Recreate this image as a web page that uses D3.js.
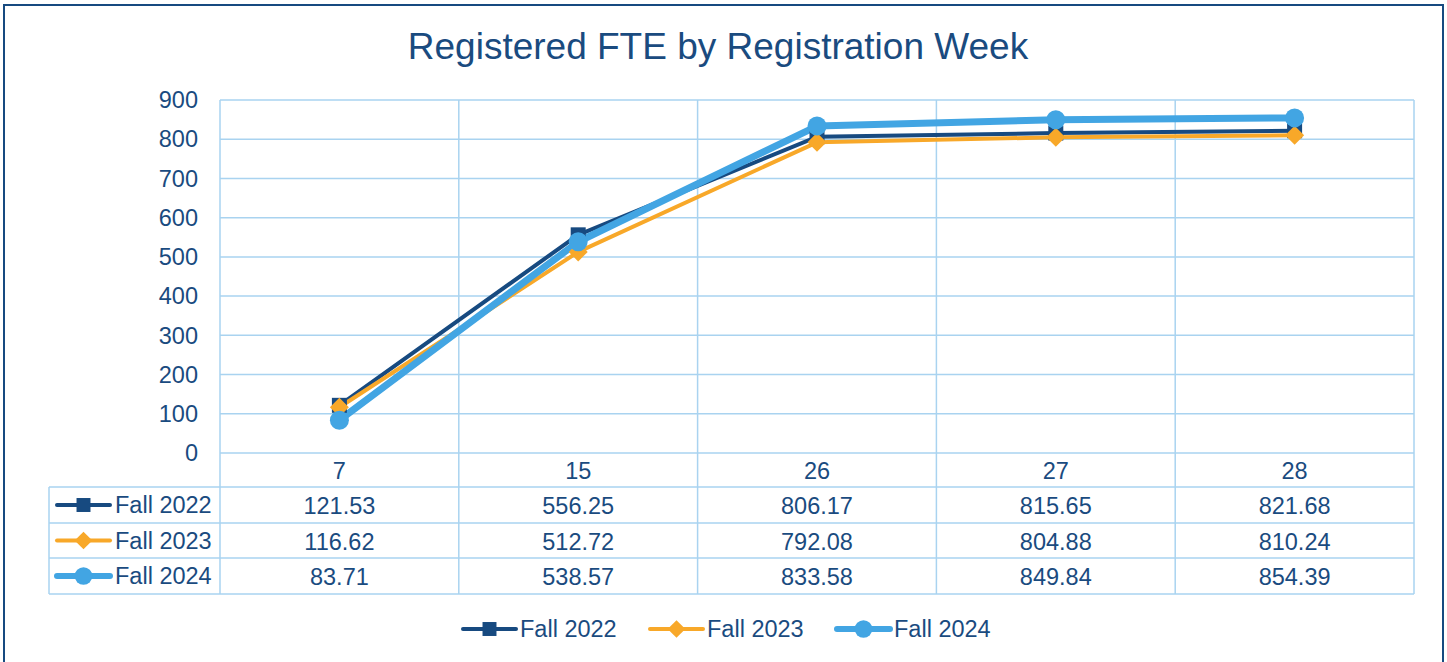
<!DOCTYPE html>
<html>
<head>
<meta charset="utf-8">
<script src="https://cdn.jsdelivr.net/npm/d3@7"></script>
<style>
  body { margin: 0; background: #fff; }
  text { font-family: "Liberation Sans", Arial, sans-serif; fill: #1A4B7F; }
</style>
</head>
<body>
<div class="chart"></div>
<script>
var weeks = ["7", "15", "26", "27", "28"];
var seriesNames = ["Fall 2022", "Fall 2023", "Fall 2024"];
var fall2022 = [121.53, 556.25, 806.17, 815.65, 821.68];
var fall2023 = [116.62, 512.72, 792.08, 804.88, 810.24];
var fall2024 = [83.71, 538.57, 833.58, 849.84, 854.39];
var yTicks = [0, 100, 200, 300, 400, 500, 600, 700, 800, 900];

var W = 1447, H = 662;
var margin = { top: 100, left: 220, right: 33, bottom: 209 };
var width = W - margin.left - margin.right,
    height = H - margin.top - margin.bottom;

var navy = "#174A80", orange = "#F8A829", sky = "#42A5E3", grid = "#A9D3F0";
var fs = "23.5px";

var series = [
  { name: seriesNames[0], values: fall2022, color: navy, sw: 4, shape: "square" },
  { name: seriesNames[1], values: fall2023, color: orange, sw: 4, shape: "diamond" },
  { name: seriesNames[2], values: fall2024, color: sky, sw: 7, shape: "circle" }
];

var svg = d3.select(".chart").append("svg")
  .attr("width", W).attr("height", H);

// outer border
svg.append("rect")
  .attr("x", 4).attr("y", 5).attr("width", 1439).attr("height", 670)
  .attr("fill", "none").attr("stroke", navy).attr("stroke-width", 2);

svg.append("text")
  .attr("x", 718).attr("y", 59)
  .attr("text-anchor", "middle")
  .style("font-size", "37px")
  .text("Registered FTE by Registration Week");

var g = svg.append("g")
  .attr("transform", "translate(" + margin.left + "," + margin.top + ")");

var xBand = d3.scaleBand().domain(weeks).range([0, width]);
var x = function(w) { return xBand(w) + xBand.bandwidth() / 2; };
var y = d3.scaleLinear().domain([0, 900]).range([height, 0]);

// horizontal gridlines
g.selectAll(".hgrid").data(yTicks).enter().append("line")
  .attr("x1", 0).attr("x2", width)
  .attr("y1", function(d) { return y(d); })
  .attr("y2", function(d) { return y(d); })
  .attr("stroke", grid).attr("stroke-width", 1.5);

// y tick labels
g.selectAll(".ylab").data(yTicks).enter().append("text")
  .attr("x", -22).attr("y", function(d) { return y(d); })
  .attr("dy", "0.35em").attr("text-anchor", "end")
  .style("font-size", fs)
  .text(function(d) { return d; });

// table geometry
var rowH = [34, 36, 35, 36];
var rowTop = [height];
rowH.forEach(function(h, i) { rowTop.push(rowTop[i] + h); });
var legLeft = 49 - margin.left;

// vertical gridlines through plot + table
var vx = weeks.map(function(w) { return xBand(w); }).concat([width]);
g.selectAll(".vgrid").data(vx).enter().append("line")
  .attr("x1", function(d) { return d; }).attr("x2", function(d) { return d; })
  .attr("y1", 0).attr("y2", rowTop[4])
  .attr("stroke", grid).attr("stroke-width", 1.5);

// table horizontal lines
[1, 2, 3, 4].forEach(function(i) {
  g.append("line")
    .attr("x1", legLeft).attr("x2", width)
    .attr("y1", rowTop[i]).attr("y2", rowTop[i])
    .attr("stroke", grid).attr("stroke-width", 1.5);
});
g.append("line")
  .attr("x1", legLeft).attr("x2", legLeft)
  .attr("y1", rowTop[1]).attr("y2", rowTop[4])
  .attr("stroke", grid).attr("stroke-width", 1.5);

// category labels
g.selectAll(".xlab").data(weeks).enter().append("text")
  .attr("x", function(d) { return x(d); })
  .attr("y", (rowTop[0] + rowTop[1]) / 2 + 1)
  .attr("dy", "0.35em").attr("text-anchor", "middle")
  .style("font-size", fs)
  .text(function(d) { return d; });

function drawMarker(sel, s, cx, cy, scale) {
  scale = scale || 1;
  if (s.shape === "square") {
    var a = 15 * scale;
    sel.append("rect").attr("x", cx - a / 2).attr("y", cy - a / 2)
      .attr("width", a).attr("height", a).attr("fill", s.color);
  } else if (s.shape === "diamond") {
    var r = 9.5 * scale;
    sel.append("path")
      .attr("d", "M" + cx + "," + (cy - r) + "L" + (cx + r) + "," + cy + "L" + cx + "," + (cy + r) + "L" + (cx - r) + "," + cy + "Z")
      .attr("fill", s.color);
  } else {
    sel.append("circle").attr("cx", cx).attr("cy", cy).attr("r", 9.5 * scale).attr("fill", s.color);
  }
}

function legendKey(sel, s, x0, cy, len) {
  sel.append("line")
    .attr("x1", x0).attr("x2", x0 + len)
    .attr("y1", cy).attr("y2", cy)
    .attr("stroke", s.color).attr("stroke-width", s.sw === 7 ? 6 : 4)
    .attr("stroke-linecap", "round");
  drawMarker(sel, s, x0 + len / 2, cy, 0.93);
}

// table rows
series.forEach(function(s, i) {
  var cy = (rowTop[i + 1] + rowTop[i + 2]) / 2;
  legendKey(g, s, 57 - margin.left, cy, 53);
  g.append("text")
    .attr("x", 115 - margin.left).attr("y", cy)
    .attr("dy", "0.35em").style("font-size", fs)
    .text(s.name);
  g.selectAll(".cell" + i).data(s.values).enter().append("text")
    .attr("x", function(d, j) { return x(weeks[j]); })
    .attr("y", cy + 1).attr("dy", "0.35em")
    .attr("text-anchor", "middle").style("font-size", fs)
    .text(function(d) { return d.toFixed(2); });
});

// lines
var line = d3.line()
  .x(function(d, j) { return x(weeks[j]); })
  .y(function(d) { return y(d); });

series.forEach(function(s) {
  g.append("path")
    .attr("d", line(s.values))
    .attr("fill", "none").attr("stroke", s.color)
    .attr("stroke-width", s.sw).attr("stroke-linejoin", "round");
});
series.forEach(function(s) {
  var mg = g.append("g");
  s.values.forEach(function(v, j) { drawMarker(mg, s, x(weeks[j]), y(v)); });
});

// bottom legend
var legX = [463, 650, 837];
series.forEach(function(s, i) {
  legendKey(svg, s, legX[i], 629, 53);
  svg.append("text")
    .attr("x", legX[i] + 57).attr("y", 629)
    .attr("dy", "0.35em").style("font-size", fs)
    .text(s.name);
});
</script>
</body>
</html>
